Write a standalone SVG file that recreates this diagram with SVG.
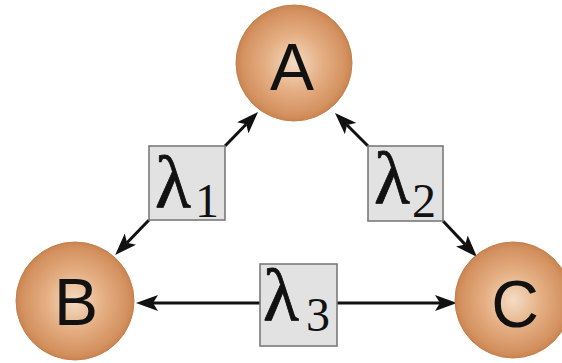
<svg xmlns="http://www.w3.org/2000/svg" width="562" height="363" viewBox="0 0 562 363">
<style>
.node{fill:url(#ball);stroke:#c4804c;stroke-width:1}
.lbl{font-family:"Liberation Sans",Arial,sans-serif;font-size:66px;fill:#111;text-anchor:middle}
.box{fill:#e2e2e2;stroke:#7a7a7a;stroke-width:1.6}
.lam{font-family:"Liberation Serif","Times New Roman",serif;font-size:74px;fill:#111;stroke:#111;stroke-width:0.8}
.sub{font-family:"Liberation Serif","Times New Roman",serif;font-size:48px;fill:#111}
.edge{stroke:#111;stroke-width:3;fill:none;marker-end:url(#arr)}
</style>
<defs>
<radialGradient id="ball" cx="0.5" cy="0.5" r="0.5">
<stop offset="0" stop-color="#f4dcc4"/>
<stop offset="0.5" stop-color="#e4ae82"/>
<stop offset="0.9" stop-color="#d49160"/>
<stop offset="1" stop-color="#c98550"/>
</radialGradient>
<marker id="arr" markerUnits="userSpaceOnUse" markerWidth="22" markerHeight="16" refX="5" refY="8" orient="auto" viewBox="0 0 22 16">
<path d="M0,0 L22,8 L0,16 L5,8 z" fill="#111"/>
</marker>
</defs>
<g id="connectors">
<line class="edge" x1="225" y1="146" x2="246.2" y2="124.2"/>
<line class="edge" x1="149" y1="220" x2="127" y2="242.7"/>
<line class="edge" x1="368" y1="146" x2="347" y2="125"/>
<line class="edge" x1="443" y1="221" x2="465.3" y2="244.6"/>
<line class="edge" x1="260" y1="303" x2="153" y2="303"/>
<line class="edge" x1="337" y1="303" x2="440" y2="303"/>
</g>
<g id="A"><circle class="node" cx="294" cy="63" r="58"/><text class="lbl" x="292" y="90">A</text></g>
<g id="B"><circle class="node" cx="75" cy="301" r="59"/><text class="lbl" x="76" y="325">B</text></g>
<g id="C"><circle class="node" cx="513" cy="300" r="58"/><text class="lbl" x="515" y="327">C</text></g>
<g id="lambda1"><rect class="box" x="149" y="146" width="76" height="74"/><text class="lam" x="155" y="207">λ</text><text class="sub" x="195" y="217">1</text></g>
<g id="lambda2"><rect class="box" x="368" y="146" width="75" height="75"/><text class="lam" x="374" y="203">λ</text><text class="sub" x="412" y="217">2</text></g>
<g id="lambda3"><rect class="box" x="260" y="264" width="77" height="82"/><text class="lam" x="263" y="320">λ</text><text class="sub" x="306" y="331">3</text></g>
</svg>
